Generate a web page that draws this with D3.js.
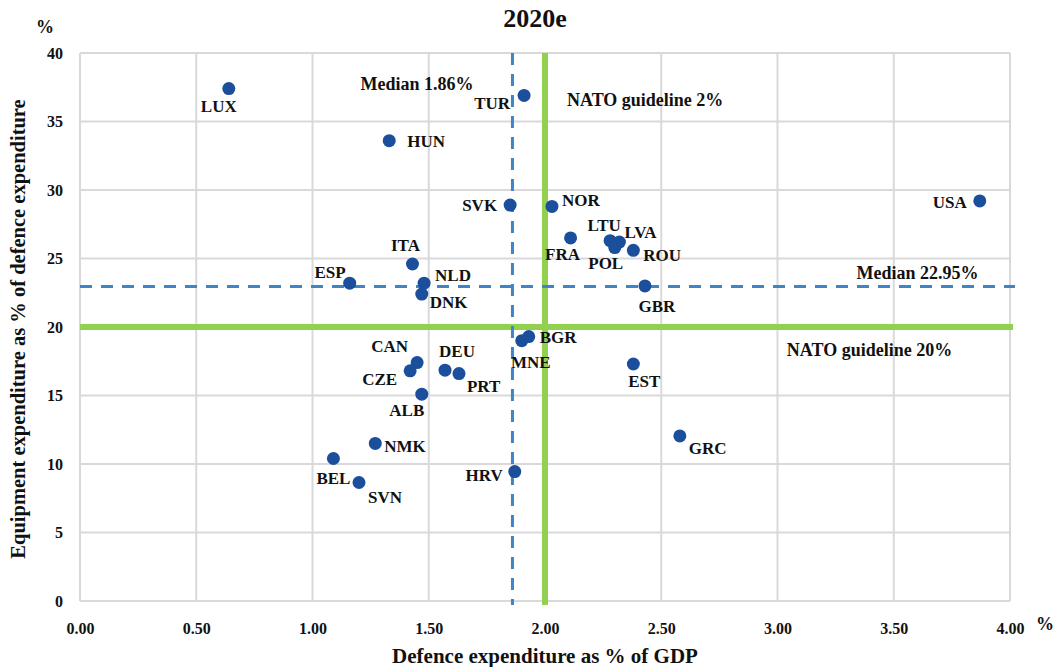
<!DOCTYPE html>
<html lang="en">
<head>
<meta charset="UTF-8">
<title>Defence and equipment expenditure 2020e</title>
<script src="https://d3js.org/d3.v7.min.js"></script>
<style>
  body { margin: 0; background: #fff; }
  svg text { font-family: "Liberation Serif", "DejaVu Serif", serif !important; font-weight: bold; }
</style>
</head>
<body>
<div id="chart"></div>
<script>
// data
const countries = ["LUX", "TUR", "HUN", "SVK", "NOR", "USA", "FRA", "LTU", "LVA", "POL", "ROU", "GBR",
  "ITA", "ESP", "NLD", "DNK", "CAN", "CZE", "DEU", "PRT", "ALB", "NMK", "BEL", "SVN", "HRV", "BGR", "MNE", "EST", "GRC"];
const gdpShare = [0.64, 1.91, 1.33, 1.85, 2.03, 3.87, 2.11, 2.28, 2.32, 2.30, 2.38, 2.43,
  1.43, 1.16, 1.48, 1.47, 1.45, 1.42, 1.57, 1.63, 1.47, 1.27, 1.09, 1.20, 1.87, 1.93, 1.90, 2.38, 2.58];
const equipShare = [37.4, 36.9, 33.6, 28.9, 28.8, 29.2, 26.5, 26.3, 26.2, 25.8, 25.6, 23.0,
  24.6, 23.2, 23.2, 22.4, 17.4, 16.8, 16.85, 16.6, 15.1, 11.5, 10.4, 8.65, 9.45, 19.3, 19.0, 17.3, 12.05];

const xTicks = [0, 0.5, 1, 1.5, 2, 2.5, 3, 3.5, 4];
const yTicks = [0, 5, 10, 15, 20, 25, 30, 35, 40];

const medianGdp = 1.86, medianEquip = 22.95;
const natoGdp = 2, natoEquip = 20;

// label placement: [anchor, dx, dy]
const labelPlace = {
  LUX: ["middle", -10, 23], TUR: ["end", -14, 14], HUN: ["start", 18, 6], SVK: ["end", -13, 6],
  NOR: ["start", 10, 0], USA: ["end", -13, 7], FRA: ["middle", -8, 22], LTU: ["middle", -6, -10],
  LVA: ["start", 5, -4], POL: ["middle", -9, 21], ROU: ["start", 10, 11], GBR: ["middle", 12, 26],
  ITA: ["middle", -7, -13], ESP: ["end", -4, -5], NLD: ["start", 11, -2], DNK: ["start", 8, 14],
  CAN: ["end", -9, -11], CZE: ["end", -13, 14], DEU: ["start", -6, -13], PRT: ["start", 8, 18],
  ALB: ["middle", -15, 22], NMK: ["start", 9, 9], BEL: ["middle", 0, 25], SVN: ["start", 9, 21],
  HRV: ["end", -12, 9], BGR: ["start", 11, 6], MNE: ["middle", 9, 27], EST: ["middle", 11, 23],
  GRC: ["start", 9, 18]
};

const W = 1057, H = 667;
const margin = { top: 53, right: 47, bottom: 66, left: 80 };
const serif = "Liberation Serif";

const svg = d3.select("#chart").append("svg")
  .attr("width", W).attr("height", H);

const x = d3.scaleLinear().domain([0, 4]).range([margin.left, W - margin.right]);
const y = d3.scaleLinear().domain([0, 40]).range([H - margin.bottom, margin.top]);

// grid
svg.append("g").selectAll("line").data(xTicks).join("line")
  .attr("x1", d => x(d)).attr("x2", d => x(d))
  .attr("y1", y(40)).attr("y2", y(0))
  .attr("stroke", "#d9d9d9").attr("stroke-width", 2);
svg.append("g").selectAll("line").data(yTicks).join("line")
  .attr("x1", x(0)).attr("x2", x(4))
  .attr("y1", d => y(d)).attr("y2", d => y(d))
  .attr("stroke", "#d9d9d9").attr("stroke-width", 2);

// axes (labels only)
const xAxis = svg.append("g")
  .attr("transform", `translate(0,${y(0)})`)
  .call(d3.axisBottom(x).tickValues(xTicks).tickFormat(d3.format(".2f")).tickSize(0).tickPadding(22));
const yAxis = svg.append("g")
  .attr("transform", `translate(${x(0)},0)`)
  .call(d3.axisLeft(y).tickValues(yTicks).tickSize(0).tickPadding(17));
[xAxis, yAxis].forEach(g => {
  g.attr("font-family", serif);
  g.select(".domain").remove();
  g.selectAll("text").attr("font-family", serif).attr("font-weight", "bold")
    .attr("font-size", 16).attr("fill", "#111");
});

// NATO guidelines
svg.append("line")
  .attr("x1", x(0)).attr("x2", x(4) + 3)
  .attr("y1", y(natoEquip)).attr("y2", y(natoEquip))
  .attr("stroke", "#92d050").attr("stroke-width", 6);
svg.append("line")
  .attr("x1", x(natoGdp)).attr("x2", x(natoGdp))
  .attr("y1", y(40)).attr("y2", y(0) + 4)
  .attr("stroke", "#92d050").attr("stroke-width", 6);

// medians
svg.append("line")
  .attr("x1", x(0)).attr("x2", x(4) + 5)
  .attr("y1", y(medianEquip)).attr("y2", y(medianEquip))
  .attr("stroke", "#3d85c6").attr("stroke-width", 3).attr("stroke-dasharray", "12,9");
svg.append("line")
  .attr("x1", x(medianGdp)).attr("x2", x(medianGdp))
  .attr("y1", y(40)).attr("y2", y(0) + 4)
  .attr("stroke", "#3d85c6").attr("stroke-width", 3).attr("stroke-dasharray", "12,9");

// points
const pts = countries.map((c, i) => ({ c, gx: gdpShare[i], ey: equipShare[i] }));
svg.append("g").selectAll("circle").data(pts).join("circle")
  .attr("cx", d => x(d.gx)).attr("cy", d => y(d.ey))
  .attr("r", 6.5).attr("fill", "#1b4f9c");

svg.append("g").selectAll("text").data(pts).join("text")
  .attr("x", d => x(d.gx) + labelPlace[d.c][1])
  .attr("y", d => y(d.ey) + labelPlace[d.c][2])
  .attr("text-anchor", d => labelPlace[d.c][0])
  .attr("font-family", serif).attr("font-weight", "bold")
  .attr("font-size", 17).attr("fill", "#111")
  .text(d => d.c);

// annotations
const note = (tx, ty, t, anchor) => svg.append("text")
  .attr("x", tx).attr("y", ty).attr("text-anchor", anchor || "start")
  .attr("font-family", serif).attr("font-weight", "bold")
  .attr("font-size", 18).attr("fill", "#111").text(t);
note(x(medianGdp) - 39, y(37.4) + 1, `Median ${medianGdp}%`, "end");
note(x(natoGdp) + 22, y(36.0) - 2, `NATO guideline ${natoGdp}%`);
note(x(3.34), y(medianEquip) - 8, `Median ${medianEquip}%`);
note(x(3.04), y(natoEquip) + 29, `NATO guideline ${natoEquip}%`);

// titles
const label = (tx, ty, t, size) => svg.append("text")
  .attr("x", tx).attr("y", ty).attr("text-anchor", "middle")
  .attr("font-family", serif).attr("font-weight", "bold")
  .attr("font-size", size).attr("fill", "#111").text(t);
label(535, 27, "2020e", 26);
label(45, 33, "%", 18);
label(1045, 630, "%", 18);
label(545, 663, "Defence expenditure as % of GDP", 21);
label(0, 0, "Equipment expenditure as % of defence expenditure", 20.5)
  .attr("transform", `translate(25,${(y(0) + y(40)) / 2 + 2}) rotate(-90)`);
</script>
</body>
</html>
